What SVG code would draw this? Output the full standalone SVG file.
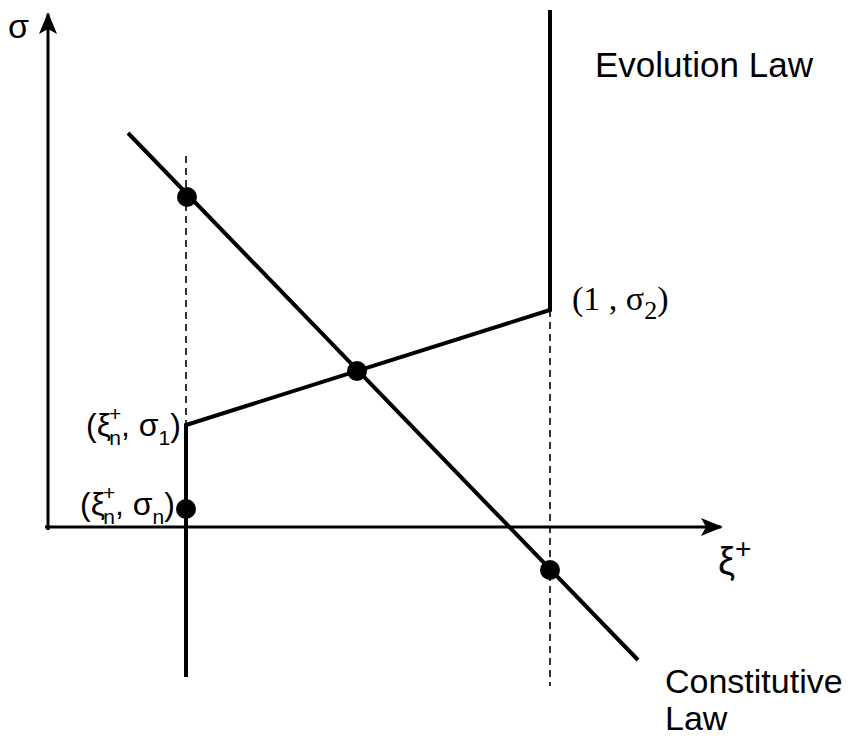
<svg xmlns="http://www.w3.org/2000/svg" width="856" height="742" viewBox="0 0 856 742">
<style>
.sans{font-family:"Liberation Sans",Arial,sans-serif;fill:#000}
.serif{font-family:"Liberation Serif","Times New Roman",serif;fill:#000}
.solid{stroke:#000;stroke-width:4;fill:none}
.axis{stroke:#000;stroke-width:3;fill:none}
.dash{stroke:#000;stroke-width:1.6;stroke-dasharray:7 5;fill:none}
.dot{fill:#000}
</style>
<defs>
<marker id="arr" markerWidth="22" markerHeight="18" refX="20" refY="9" orient="auto" markerUnits="userSpaceOnUse">
<path d="M0,0 L22,9 L0,18 L5,9 Z" fill="#000"/>
</marker>
</defs>
<rect width="856" height="742" fill="#fff"/>
<g id="connectors">
<line class="axis" x1="48" y1="530" x2="48" y2="14" marker-end="url(#arr)"/>
<line class="axis" x1="45" y1="527" x2="721" y2="527" marker-end="url(#arr)"/>
<line class="dash" x1="186" y1="156" x2="186" y2="425"/>
<line class="dash" x1="550" y1="310" x2="550" y2="686"/>
<polyline class="solid" points="186,677 186,425 550,310 550,10"/>
<line class="solid" x1="128" y1="133" x2="638" y2="660"/>
</g>
<g id="p1"><circle class="dot" cx="187" cy="197" r="10"/></g>
<g id="p2"><circle class="dot" cx="357" cy="371" r="10"/></g>
<g id="p3"><circle class="dot" cx="186" cy="509" r="10"/></g>
<g id="p4"><circle class="dot" cx="550" cy="570" r="10"/></g>
<g id="labels">
<text class="sans" x="8" y="38" font-size="34">σ</text>
<text class="sans" x="718" y="574" font-size="38">ξ<tspan font-size="28" dy="-16">+</tspan></text>
<text class="sans" x="595" y="77" font-size="35">Evolution Law</text>
<text class="sans" x="665" y="693" font-size="34">Constitutive</text>
<text class="sans" x="665" y="730" font-size="34">Law</text>
<text class="serif" x="572" y="310" font-size="34">(1 , σ<tspan font-size="26" dy="9">2</tspan><tspan dy="-9">)</tspan></text>
<text class="sans" x="86" y="436" font-size="32">(ξ<tspan font-size="21" dx="-2" dy="-15">+</tspan><tspan font-size="21" dx="-12" dy="24">n</tspan><tspan dy="-9">, σ</tspan><tspan font-size="21" dy="9">1</tspan><tspan dy="-9">)</tspan></text>
<text class="sans" x="80" y="515" font-size="32">(ξ<tspan font-size="21" dx="-2" dy="-15">+</tspan><tspan font-size="21" dx="-12" dy="24">n</tspan><tspan dy="-9">, σ</tspan><tspan font-size="21" dy="9">n</tspan><tspan dy="-9">)</tspan></text>
</g>
</svg>
